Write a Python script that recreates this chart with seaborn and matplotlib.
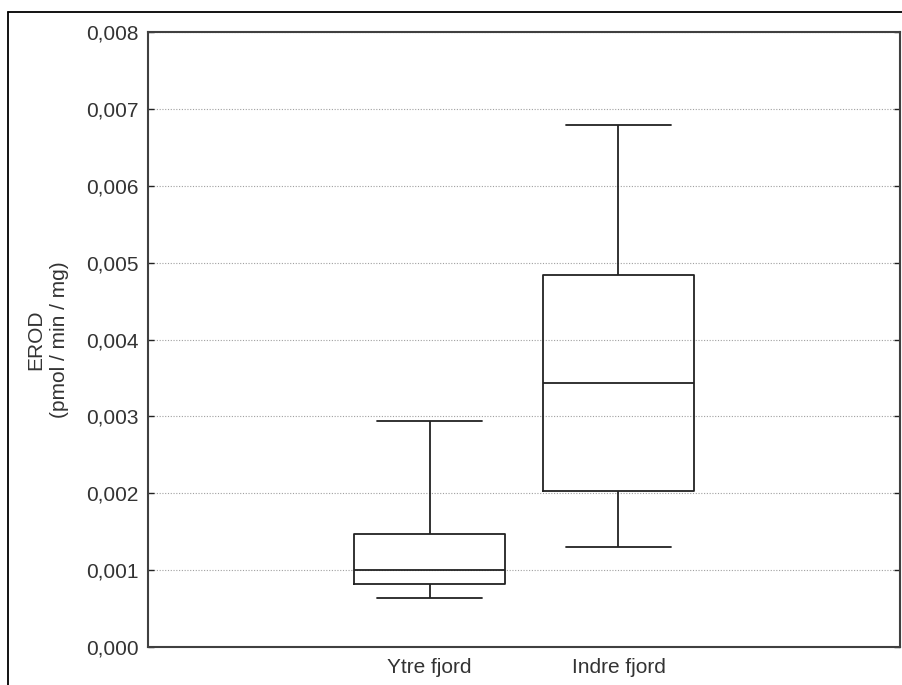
import matplotlib
matplotlib.use("Agg")
import matplotlib.pyplot as plt
import matplotlib.ticker as mticker
from matplotlib.lines import Line2D
import seaborn as sns
import pandas as pd

# Per-site EROD summaries: min, lower quartile, median, upper quartile, max
categories = ["Ytre fjord", "Indre fjord"]
ytre_values = [0.00064, 0.000815, 0.00100, 0.00147, 0.00294]
indre_values = [0.00130, 0.00203, 0.00343, 0.00484, 0.00679]
y_ticks = [0.000, 0.001, 0.002, 0.003, 0.004, 0.005, 0.006, 0.007, 0.008]

df = pd.DataFrame({
    "site": [categories[0]] * len(ytre_values) + [categories[1]] * len(indre_values),
    "erod": ytre_values + indre_values,
})

sns.set_style("white")
plt.rcParams["font.family"] = ["Liberation Sans", "DejaVu Sans"]

fig = plt.figure(figsize=(9.02, 6.85), dpi=100)
ax = fig.add_axes([148 / 902, 1 - 647 / 685, (900 - 148) / 902, (647 - 32) / 685])

ink = "#222222"
line_kw = dict(color=ink, linewidth=1.3)
box_width = 0.8
sns.boxplot(
    data=df, x="site", y="erod", order=categories, ax=ax,
    whis=(0, 100), width=box_width, fill=False, color=ink,
    linewidth=1.3, showfliers=False,
    whiskerprops=line_kw, capprops=line_kw, medianprops=line_kw, boxprops=line_kw,
)

# widen the whisker caps to ~70% of the box width
cap_half = box_width * 0.7 / 2
for line in ax.lines:
    xd = list(line.get_xdata())
    yd = list(line.get_ydata())
    if len(xd) == 2 and yd[0] == yd[1] and abs(xd[1] - xd[0]) < box_width * 0.95:
        c = (xd[0] + xd[1]) / 2
        line.set_xdata([c - cap_half, c + cap_half])

ax.set_xlim(-1.49, 2.49)
ax.set_ylim(0, 0.008)
ax.set_yticks(y_ticks)
ax.yaxis.set_major_formatter(mticker.FuncFormatter(lambda v, p: f"{v:.3f}".replace(".", ",")))
ax.yaxis.grid(True, linestyle=(0, (1, 1.5)), color="#a0a0a0", linewidth=0.8)
ax.set_axisbelow(True)

ax.tick_params(axis="y", direction="in", length=4, width=1, labelsize=15,
               colors=ink, left=True, right=True, pad=7)
ax.tick_params(axis="x", length=0, labelsize=15, colors=ink, pad=8)
for lab in ax.get_yticklabels() + ax.get_xticklabels():
    lab.set_color("#333333")

for s in ax.spines.values():
    s.set_color("#404040")
    s.set_linewidth(1.5)

ax.set_xlabel("")
ax.set_ylabel("EROD\n(pmol / min / mg)", fontsize=15, color="#333333", labelpad=12,
              linespacing=1.3)

# outer frame around the chart area
fig.add_artist(Line2D([8 / 902, 8 / 902], [0, 1 - 12 / 685], transform=fig.transFigure,
                      color="black", linewidth=1.3))
fig.add_artist(Line2D([8 / 902, 1], [1 - 12 / 685, 1 - 12 / 685], transform=fig.transFigure,
                      color="black", linewidth=1.3))

fig.savefig("out.png", dpi=100)
